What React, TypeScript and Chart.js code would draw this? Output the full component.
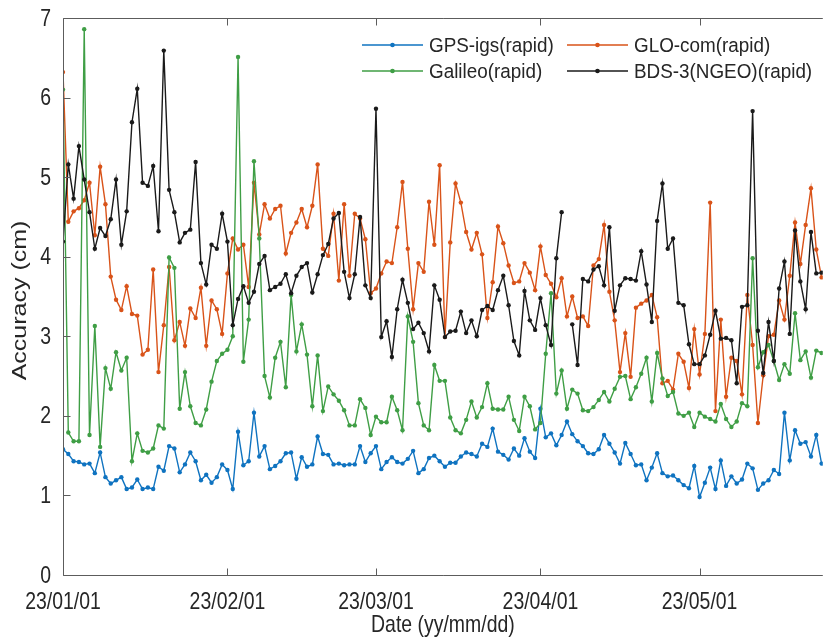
import React, { useEffect, useRef } from 'react';
import { Chart, registerables } from 'chart.js';

Chart.register(...registerables);

// Daily values from 23/01/01 (day 0) to 23/05/24 (day 143)
const gpsValues = [
  1.58, 1.52, 1.43, 1.42, 1.39, 1.40, 1.28, 1.54, 1.23, 1.15,
  1.19, 1.23, 1.08, 1.10, 1.20, 1.08, 1.10, 1.08, 1.36, 1.31,
  1.62, 1.59, 1.29, 1.39, 1.54, 1.43, 1.19, 1.26, 1.16, 1.23,
  1.39, 1.32, 1.08, 1.80, 1.38, 1.43, 2.04, 1.49, 1.62, 1.33,
  1.37, 1.43, 1.53, 1.54, 1.21, 1.48, 1.36, 1.39, 1.74, 1.52,
  1.51, 1.39, 1.40, 1.38, 1.39, 1.39, 1.62, 1.42, 1.53, 1.62,
  1.33, 1.42, 1.48, 1.42, 1.40, 1.46, 1.56, 1.28, 1.33, 1.47,
  1.50, 1.43, 1.36, 1.41, 1.41, 1.49, 1.54, 1.52, 1.49, 1.65,
  1.61, 1.84, 1.55, 1.51, 1.45, 1.59, 1.50, 1.72, 1.55, 1.47,
  2.09, 1.73, 1.78, 1.63, 1.76, 1.93, 1.77, 1.68, 1.62, 1.53,
  1.52, 1.58, 1.76, 1.65, 1.54, 1.40, 1.66, 1.52, 1.38, 1.39,
  1.19, 1.35, 1.53, 1.28, 1.24, 1.25, 1.19, 1.13, 1.09, 1.37,
  0.98, 1.16, 1.35, 1.08, 1.44, 1.12, 1.24, 1.15, 1.20, 1.40,
  1.34, 1.07, 1.15, 1.19, 1.32, 1.27, 2.04, 1.44, 1.82, 1.65,
  1.67, 1.49, 1.76, 1.40,
];

const gloValues = [
  6.32, 4.44, 4.57, 4.61, 4.71, 4.93, 4.27, 5.13, 4.66, 3.75,
  3.46, 3.33, 3.63, 3.28, 3.26, 2.77, 2.83, 3.84, 2.55, 3.14,
  3.87, 2.95, 3.18, 2.88, 3.35, 3.23, 3.61, 2.88, 3.45, 3.34,
  3.03, 3.79, 4.23, 4.09, 4.15, 3.62, 4.93, 4.28, 4.66, 4.48,
  4.60, 4.64, 4.04, 4.30, 4.43, 4.60, 4.37, 4.64, 5.16, 4.10,
  4.01, 4.54, 3.70, 4.66, 3.76, 4.54, 4.48, 4.22, 3.54, 3.60,
  3.79, 3.94, 3.92, 4.37, 4.94, 4.10, 3.34, 3.92, 3.81, 4.69,
  4.15, 5.15, 2.99, 4.18, 4.92, 4.68, 4.31, 4.09, 4.30, 4.03,
  3.23, 3.68, 4.38, 4.17, 3.89, 3.67, 3.69, 3.92, 3.80, 3.58,
  4.13, 3.77, 3.66, 3.49, 3.73, 3.25, 3.50, 3.23, 3.25, 3.13,
  3.89, 3.97, 4.40, 3.56, 3.20, 2.55, 3.04, 2.49, 3.36, 3.41,
  3.45, 3.52, 3.24, 2.41, 2.44, 2.33, 2.78, 2.68, 2.35, 3.09,
  2.52, 3.03, 4.68, 2.06, 3.21, 2.24, 2.73, 2.69, 2.27, 3.52,
  2.89, 1.91, 2.51, 3.00, 3.02, 3.45, 3.21, 3.76, 4.43, 3.91,
  4.40, 4.86, 4.09, 3.74,
];

const galileoValues = [
  6.10, 1.79, 1.68, 1.68, 6.86, 1.76, 3.13, 1.61, 2.60, 2.34,
  2.80, 2.57, 2.73, 1.43, 1.78, 1.56, 1.54, 1.59, 1.88, 1.84,
  3.99, 3.86, 2.09, 2.55, 2.12, 1.91, 1.88, 2.08, 2.43, 2.69,
  2.78, 2.83, 3.00, 6.51, 2.68, 3.21, 5.20, 4.23, 2.50, 2.23,
  2.73, 2.93, 2.36, 3.52, 2.81, 3.15, 2.77, 2.12, 2.76, 2.06,
  2.37, 2.27, 2.19, 2.07, 1.88, 1.88, 2.21, 2.10, 1.76, 1.99,
  1.92, 1.92, 2.24, 2.07, 1.82, 3.25, 2.93, 2.16, 1.88, 1.82,
  2.64, 2.44, 2.44, 1.98, 1.82, 1.78, 1.95, 2.18, 1.98, 2.11,
  2.41, 2.09, 2.08, 2.08, 2.24, 1.95, 1.81, 2.24, 2.12, 1.83,
  1.91, 2.78, 3.54, 2.28, 2.57, 2.09, 2.33, 2.28, 2.07, 2.06,
  2.11, 2.20, 2.30, 2.18, 2.34, 2.49, 2.50, 2.21, 2.36, 2.53,
  2.73, 2.18, 2.79, 2.47, 2.25, 2.30, 2.03, 2.00, 2.04, 1.86,
  2.04, 1.99, 1.96, 1.93, 2.15, 1.96, 1.86, 1.93, 2.16, 2.12,
  3.98, 2.61, 2.80, 2.89, 2.69, 2.45, 2.65, 2.53, 3.29, 2.70,
  2.81, 2.48, 2.82, 2.79,
];

const bdsValues: (number | null)[] = [
  4.19, 5.16, 4.73, 5.39, 4.97, 4.56, 4.10, 4.36, 4.26, 4.47,
  4.97, 4.15, 4.57, 5.69, 6.11, 4.93, 4.89, 5.14, 4.32, 6.59,
  4.84, 4.56, 4.18, 4.30, 4.34, 5.19, 3.92, 3.65, 4.15, 4.10,
  4.54, 4.19, 3.14, 3.47, 3.63, 3.42, 3.56, 3.91, 4.01, 3.58,
  3.62, 3.66, 3.78, 3.54, 3.76, 3.87, 3.92, 3.55, 3.78, 4.02,
  4.16, 4.48, 4.55, 3.81, 3.48, 3.78, 4.50, 3.64, 3.48, 5.86,
  2.99, 3.19, 2.74, 3.34, 3.71, 3.42, 3.09, 3.17, 3.04, 2.81,
  3.64, 3.46, 2.99, 3.06, 3.07, 3.31, 3.04, 3.20, 3.00, 3.33,
  3.38, 3.33, 3.58, 3.76, 3.39, 2.94, 2.76, 3.57, 3.20, 3.08,
  3.48, 3.14, 2.89, 3.98, 4.56, null, 3.15, 2.64, 3.72, 3.69,
  3.84, 3.88, 3.64, 4.37, 3.32, 3.64, 3.73, 3.72, 3.70, 4.07,
  3.65, 3.18, 4.45, 4.92, 4.10, 4.23, 3.42, 3.39, 2.90, 2.65,
  2.65, 2.76, 3.02, 3.32, 2.97, 2.98, 2.95, 2.41, 3.37, 3.39,
  5.83, 3.07, 2.54, 3.18, 2.69, 3.60, 3.94, 3.03, 4.33, 3.69,
  3.34, 4.31, 3.79, 3.80,
];

const tickDays = [0, 31, 59, 90, 120];
const tickLabels = ['23/01/01', '23/02/01', '23/03/01', '23/04/01', '23/05/01'];
const yTickValues = [0, 1, 2, 3, 4, 5, 6, 7];
const seriesNames = ['GPS-igs(rapid)', 'GLO-com(rapid)', 'Galileo(rapid)', 'BDS-3(NGEO)(rapid)'];
const seriesColors = ['#0F73C0', '#D95319', '#3F9E45', '#1A1A1A'];
const xTitle = 'Date (yy/mm/dd)';
const yTitle = 'Accuracy (cm)';

const FONT = "'Liberation Sans', Arial, Helvetica, sans-serif";
const TEXT_COLOR = '#262626';
const AXIS_COLOR = '#5c5c5c';
const SQUEEZE = 0.81; // horizontal text compression seen in the reference
const LEGEND_SQUEEZE = 0.92;

const toPoints = (vals: (number | null)[]) => vals.map((v, i) => ({ x: i, y: v }));

function squeezedText(
  ctx: CanvasRenderingContext2D,
  text: string,
  x: number,
  y: number,
  align: CanvasTextAlign,
  k: number = SQUEEZE
) {
  ctx.save();
  ctx.translate(x, y);
  ctx.scale(k, 1);
  ctx.textAlign = align;
  ctx.fillText(text, 0, 0);
  ctx.restore();
}

const framePlugin = {
  id: 'frameAndLegend',
  afterDatasetsDraw(chart: any) {
    const { ctx, chartArea, scales } = chart;
    const { left, right, top, bottom } = chartArea;
    const x = scales.x;
    const y = scales.y;
    ctx.save();
    ctx.strokeStyle = AXIS_COLOR;
    ctx.lineWidth = 1;
    ctx.beginPath();
    const L = Math.round(left) + 0.5;
    const T = Math.round(top) + 0.5;
    const B = Math.round(bottom) + 0.5;
    ctx.moveTo(L, T);
    ctx.lineTo(L, B);
    ctx.lineTo(right, B);
    ctx.moveTo(L, T);
    ctx.lineTo(right, T);
    tickDays.forEach((d) => {
      const px = Math.round(x.getPixelForValue(d)) + 0.5;
      ctx.moveTo(px, B);
      ctx.lineTo(px, B - 7);
      ctx.moveTo(px, T);
      ctx.lineTo(px, T + 7);
    });
    yTickValues.forEach((v) => {
      const py = Math.round(y.getPixelForValue(v)) + 0.5;
      ctx.moveTo(L, py);
      ctx.lineTo(L + 7, py);
    });
    ctx.stroke();

    // axis tick labels and titles
    ctx.fillStyle = TEXT_COLOR;
    ctx.font = `24px ${FONT}`;
    ctx.textBaseline = 'middle';
    tickDays.forEach((d, i) => {
      squeezedText(ctx, tickLabels[i], x.getPixelForValue(d), 602, 'center');
    });
    yTickValues.forEach((v) => {
      squeezedText(ctx, String(v), 51, y.getPixelForValue(v) + 1, 'right');
    });
    squeezedText(ctx, xTitle, (left + right) / 2, 625, 'center');

    ctx.save();
    ctx.translate(20, (top + bottom) / 2 + 4);
    ctx.scale(SQUEEZE, 1);
    ctx.rotate(-Math.PI / 2);
    ctx.font = `25px ${FONT}`;
    ctx.textAlign = 'center';
    ctx.fillText(yTitle, 0, 0);
    ctx.restore();

    // legend (two rows, two columns, no box)
    const cols = [362, 567];
    const rows = [45, 71];
    ctx.font = `20.5px ${FONT}`;
    ctx.textBaseline = 'middle';
    seriesNames.forEach((name, k) => {
      const cx = cols[k % 2];
      const cy = rows[Math.floor(k / 2)];
      ctx.strokeStyle = seriesColors[k];
      ctx.lineWidth = 1.5;
      ctx.beginPath();
      ctx.moveTo(cx, cy);
      ctx.lineTo(cx + 61, cy);
      ctx.stroke();
      ctx.fillStyle = seriesColors[k];
      ctx.beginPath();
      ctx.arc(cx + 30.5, cy, 2.3, 0, Math.PI * 2);
      ctx.fill();
      ctx.fillStyle = TEXT_COLOR;
      squeezedText(ctx, name, cx + 67, cy + 1, 'left', LEGEND_SQUEEZE);
    });
    ctx.restore();
  },
};

export default function App() {
  const canvasRef = useRef<HTMLCanvasElement | null>(null);

  useEffect(() => {
    document.body.style.margin = '0';
    document.body.style.overflow = 'hidden';
    const canvas = canvasRef.current;
    if (!canvas) return;
    const allSeries = [gpsValues, gloValues, galileoValues, bdsValues];
    const chart = new Chart(canvas, {
      type: 'line',
      data: {
        datasets: allSeries.map((vals, i) => ({
          label: seriesNames[i],
          data: toPoints(vals),
          borderColor: seriesColors[i],
          backgroundColor: seriesColors[i],
          borderWidth: 1.4,
          pointRadius: 2.2,
          pointBorderWidth: 0,
          pointHoverRadius: 2.2,
          spanGaps: false,
          tension: 0,
          order: 4 - i,
        })),
      },
      options: {
        animation: false,
        responsive: false,
        maintainAspectRatio: false,
        layout: { padding: { left: 0, right: 0, top: 18, bottom: 0 } },
        plugins: { legend: { display: false }, tooltip: { enabled: false } },
        scales: {
          x: {
            type: 'linear',
            min: 0,
            max: 143.23,
            grid: { display: false, drawTicks: false },
            border: { display: false },
            afterBuildTicks: (s: any) => {
              s.ticks = tickDays.map((v) => ({ value: v }));
            },
            afterFit: (s: any) => {
              s.height = 63;
            },
            ticks: { display: false, autoSkip: false },
            title: { display: false, text: xTitle },
          },
          y: {
            type: 'linear',
            min: 0,
            max: 7,
            grid: { display: false, drawTicks: false },
            border: { display: false },
            afterBuildTicks: (s: any) => {
              s.ticks = yTickValues.map((v) => ({ value: v }));
            },
            afterFit: (s: any) => {
              s.width = 63;
            },
            ticks: { display: false },
            title: { display: false, text: yTitle },
          },
        },
      },
      plugins: [framePlugin],
    });
    return () => chart.destroy();
  }, []);

  return (
    <canvas
      ref={canvasRef}
      width={825}
      height={638}
      style={{ display: 'block', width: '825px', height: '638px' }}
    />
  );
}
